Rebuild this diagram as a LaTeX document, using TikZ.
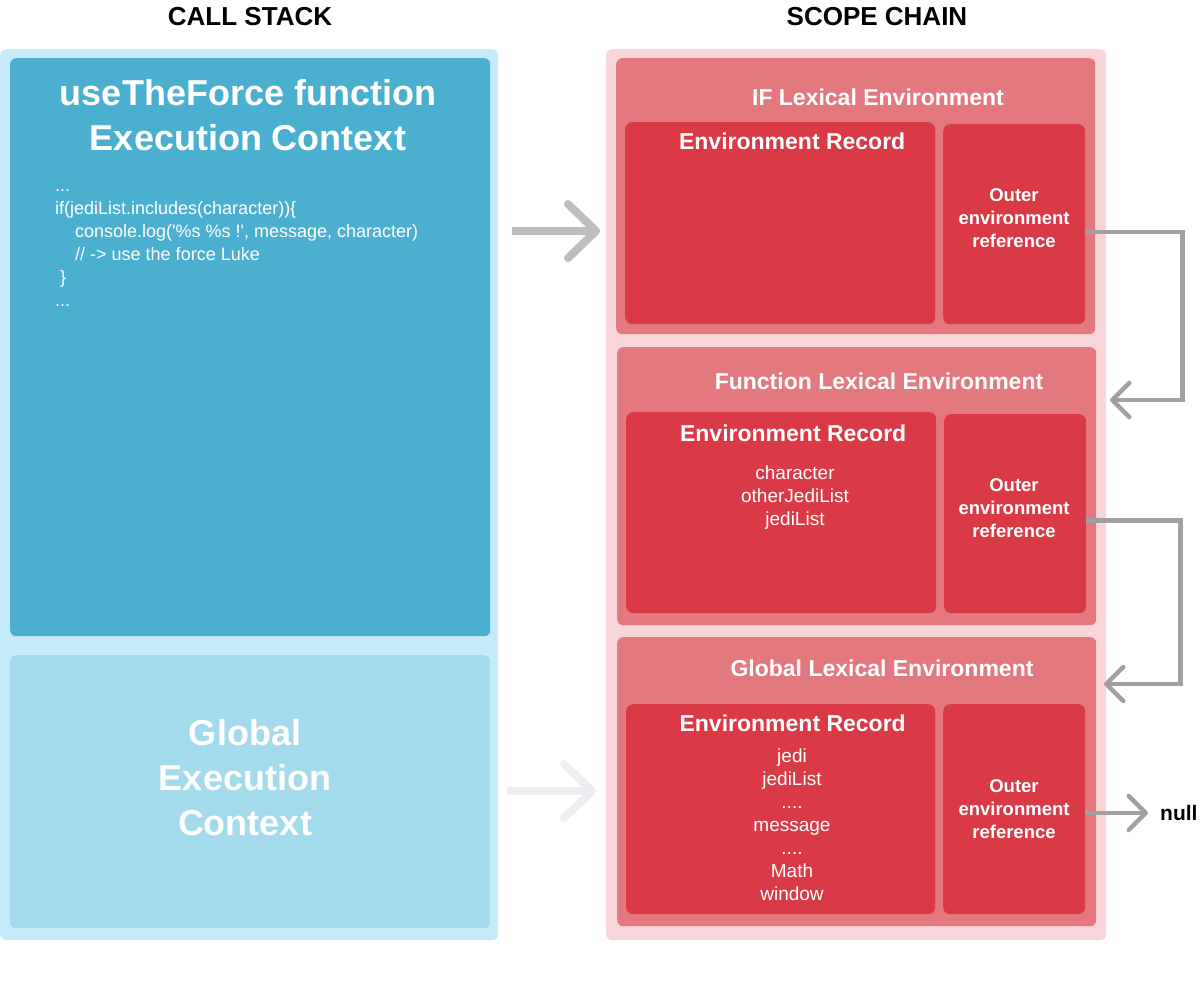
\documentclass[tikz,border=0pt]{standalone}
\usepackage{fontspec}
\setmainfont{Liberation Sans}
\usetikzlibrary{arrows.meta, positioning, calc}
\definecolor{cpanel}{HTML}{C6EBF8}
\definecolor{cdark}{HTML}{4BAFD0}
\definecolor{clight}{HTML}{A3DBED}
\definecolor{spanel}{HTML}{F8D5D9}
\definecolor{ssect}{HTML}{E3787F}
\definecolor{srec}{HTML}{DA3A45}
\definecolor{sline}{HTML}{A0A0A0}
\definecolor{sgrey}{HTML}{BEBEBE}
\definecolor{sfaint}{HTML}{ECEEF1}
\newcommand{\fsz}[2]{\fontsize{#1}{#2}\selectfont}

\begin{document}
\begin{tikzpicture}[
  x=1pt, y=-1pt,
  % plain rounded panels, placed by their top-left corner
  box/.style      = {anchor=north west, inner sep=0pt, rounded corners=6pt},
  head/.style     = {font=\bfseries\fsz{26}{30}, text=black, inner sep=0pt},
  ectitle/.style  = {font=\bfseries\fsz{36}{45}, text=white, align=center,
                     inner sep=0pt},
  code/.style     = {font=\fsz{18}{23}, text=white, align=left,
                     anchor=north west, inner sep=0pt},
  lextitle/.style = {font=\bfseries\fsz{23}{28}, text=white, inner sep=0pt},
  rectitle/.style = {font=\bfseries\fsz{23}{28}, text=white, inner sep=0pt},
  refbox/.style   = {box, fill=srec, rounded corners=7pt},
  reftxt/.style   = {font=\bfseries\fsz{18.5}{23}, text=white, align=center,
                     inner sep=0pt},
  items/.style    = {font=\fsz{19}{23}, text=white, align=center,
                     inner sep=0pt},
  nulltxt/.style  = {font=\bfseries\fsz{21}{25}, text=black, inner sep=0pt},
  link/.style     = {draw=sline, line width=4.5pt,
                     -{Straight Barb[length=17pt, width=34pt, round]}},
  push/.style     = {line width=8pt,
                     -{Straight Barb[length=28pt, width=54pt, round]}},
]
\useasboundingbox (0,0) rectangle (1200,998);

% ============================ call stack ====================================
\node[head] (stackhd) at (250,17) {CALL STACK};
\node[box, fill=cpanel, minimum width=498pt, minimum height=891pt]
     (stack) at (0,49) {};
\node[box, fill=cdark, minimum width=480pt, minimum height=578pt]
     (ecfun) at (10,58) {};
\node[box, fill=clight, minimum width=480pt, minimum height=273pt]
     (ecglob) at (10,655) {};

\node[ectitle] (ecfunt) at (248,115) {useTheForce function\\Execution Context};
\node[code] (ecfuncode) at (55,189)
     {...\\
      if(jediList.includes(character))\{\\
      \hspace*{20pt}console.log(\textquotesingle\%s \%s !\textquotesingle, message, character)\\
      \hspace*{20pt}// -> use the force Luke\\
      \hspace*{5pt}\}\\
      ...};
\node[ectitle] (ecglobt) at (245,778) {Global\\Execution\\Context};

% ============================ scope chain ===================================
\node[head] (chainhd) at (877,17) {SCOPE CHAIN};
\node[box, fill=spanel, minimum width=500pt, minimum height=891pt]
     (chain) at (606,49) {};

% IF block
\node[box, fill=ssect, minimum width=479pt, minimum height=276pt]
     (ifsec) at (616,58) {};
\node[lextitle] (ifsect) at (878,97) {IF Lexical Environment};
\node[box, fill=srec, rounded corners=7pt, minimum width=310pt,
      minimum height=202pt] (ifrec) at (625,122) {};
\node[rectitle, below=11pt of ifrec.north, xshift=12pt] (ifrect)
     {Environment Record};
\node[refbox, minimum width=142pt, minimum height=200pt] (ifref) at (943,124) {};
\node[reftxt] (ifreft) at (1014,218) {Outer\\environment\\reference};

% function block
\node[box, fill=ssect, minimum width=479pt, minimum height=278pt]
     (fnsec) at (617,347) {};
\node[lextitle] (fnsect) at (879,381) {Function Lexical Environment};
\node[box, fill=srec, rounded corners=7pt, minimum width=310pt,
      minimum height=201pt] (fnrec) at (626,412) {};
\node[rectitle, below=13pt of fnrec.north, xshift=12pt] (fnrect)
     {Environment Record};
\node[items] (fnitems) at (795,498) {character\\otherJediList\\jediList};
\node[refbox, minimum width=142pt, minimum height=199pt] (fnref) at (944,414) {};
\node[reftxt] (fnreft) at (1014,508) {Outer\\environment\\reference};

% global block
\node[box, fill=ssect, minimum width=479pt, minimum height=289pt]
     (glsec) at (617,637) {};
\node[lextitle] (glsect) at (882,668) {Global Lexical Environment};
\node[box, fill=srec, rounded corners=7pt, minimum width=309pt,
      minimum height=210pt] (glrec) at (626,704) {};
\node[rectitle, below=11pt of glrec.north, xshift=12pt] (glrect)
     {Environment Record};
\node[items] (glitems) at (792,825)
     {jedi\\jediList\\....\\message\\....\\Math\\window};
\node[refbox, minimum width=142pt, minimum height=210pt] (glref) at (943,704) {};
\node[reftxt] (glreft) at (1014,809) {Outer\\environment\\reference};

% ============================ connectors ====================================
\coordinate (pushfrom) at (512,231);
\coordinate (pushto)   at (600,231);
\draw[push, draw=sgrey] (pushfrom) -- (pushto);
\coordinate (globfrom) at (507,791);
\coordinate (globto)   at (596,791);
\draw[push, draw=sfaint] (globfrom) -- (globto);

% outer references walk up the chain
\coordinate (fnin) at (1110,400);
\coordinate (glin) at (1104,684);
\draw[link] ($(ifref.east)+(0,8)$) -- ++(97,0) |- (fnin);
\draw[link] ($(fnref.east)+(0,7)$) -- ++(94,0) |- (glin);
\node[nulltxt, anchor=west] (null) at (1160,813) {null};
\draw[link, shorten >=12pt] (glref.east |- null.west) -- (null.west);

\end{tikzpicture}
\end{document}
